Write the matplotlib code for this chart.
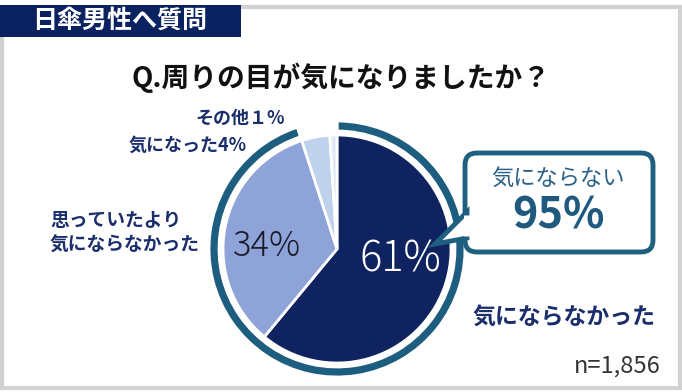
import matplotlib.pyplot as plt
from matplotlib.patches import FancyBboxPatch, Polygon, Rectangle

plt.rcParams['font.family'] = ['Noto Sans CJK JP', 'DejaVu Sans']

# データ
labels = ['気にならなかった', '思っていたより\n気にならなかった', '気になった', 'その他']
shares = [61, 34, 4, 1]
pie_colors = ['#0e2360', '#8ea4d9', '#bed3eb', '#dfe8f4']
ring_parts = [shares[0] + shares[1], shares[2] + shares[3]]
n_total = '1,856'

W, H = 682, 392
def Y(y):
    return H - y

fig = plt.figure(figsize=(W / 100, H / 100), dpi=100)
ax = fig.add_axes([0, 0, 1, 1])
ax.set_xlim(0, W)
ax.set_ylim(0, H)
ax.axis('off')

# 枠
ax.add_patch(Rectangle((1.5, Y(387.5)), 678, 381, fill=False, edgecolor='#d2d2d2', lw=3))
ax.add_patch(Rectangle((0, Y(37)), 241, 32, facecolor='#0b2260', edgecolor='none'))
ax.text(120, Y(21), '日傘男性へ質問', color='white', fontsize=18, fontweight='bold',
        ha='center', va='center')

# タイトル
ax.text(341, Y(78), 'Q.周りの目が気になりましたか？', fontsize=20, fontweight='bold',
        ha='center', va='center', color='#111111')

# 円グラフ
cx, cy = 337, Y(249)
ax.pie(ring_parts, colors=['#1d5e80', 'none'], radius=128, center=(cx, cy),
       startangle=90, counterclock=False,
       wedgeprops=dict(width=10, edgecolor='white', linewidth=2))
ax.pie(shares, colors=pie_colors, radius=114, center=(cx, cy),
       startangle=90, counterclock=False,
       wedgeprops=dict(edgecolor='white', linewidth=2))
ax.set_xlim(0, W)
ax.set_ylim(0, H)
ax.set_aspect('equal')

ax.text(400, Y(260), f'{shares[0]}%', color='white', fontsize=30, fontweight='light',
        ha='center', va='center')
ax.text(267, Y(246), f'{shares[1]}%', color='#1a1a2a', fontsize=25, fontweight='light',
        ha='center', va='center')

# ラベル
navy = '#1b2e6c'
ax.text(285, Y(118), f'その他１%', color=navy, fontsize=13, fontweight='bold',
        ha='right', va='center')
ax.text(247, Y(145), f'{labels[2]}{shares[2]}%', color=navy, fontsize=13, fontweight='bold',
        ha='right', va='center')
ax.text(50, Y(233), labels[1], color=navy, fontsize=13.5, fontweight='bold',
        ha='left', va='center', linespacing=1.4)
ax.text(472, Y(318), labels[0], color=navy, fontsize=16.5, fontweight='bold',
        ha='left', va='center')
ax.text(661, Y(366), f'n={n_total}', color='#333333', fontsize=17,
        ha='right', va='center')

# 吹き出し
teal = '#1f5f80'
ax.add_patch(FancyBboxPatch((465, Y(252)), 188, 99, boxstyle='round,pad=0,rounding_size=12',
                            facecolor='white', edgecolor=teal, lw=3.5, zorder=5))
ax.add_patch(Polygon([(467, Y(212)), (435, Y(244)), (467, Y(238))], closed=True,
                     facecolor='white', edgecolor=teal, lw=3.5, zorder=6, joinstyle='miter'))
ax.plot([466.5, 466.5], [Y(214.5), Y(236)], color='white', lw=5, zorder=7,
        solid_capstyle='butt')
ax.text(558, Y(178), '気にならない', color='#2a6088', fontsize=16,
        ha='center', va='center', zorder=8)
ax.text(558, Y(215), f'{ring_parts[0]}%', color='#1f5a7e', fontsize=31, fontweight='bold',
        ha='center', va='center', zorder=8)

fig.savefig('out.png', dpi=100)
